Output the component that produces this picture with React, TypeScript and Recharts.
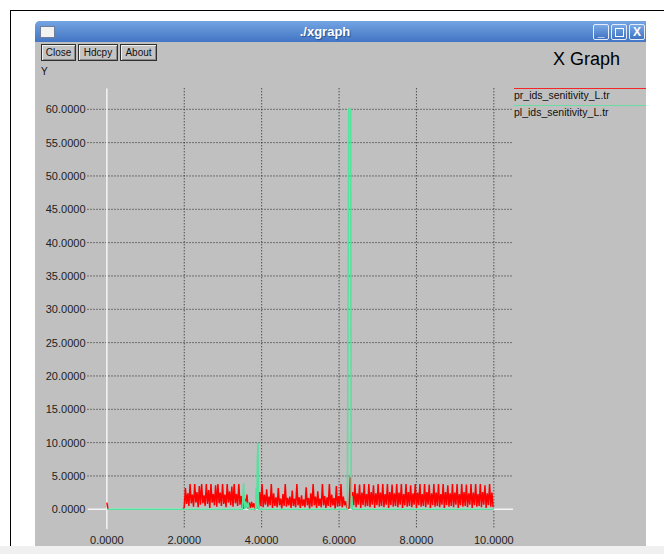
import React from 'react';
import { LineChart, Line, XAxis, YAxis, CartesianGrid } from 'recharts';

// trace files are sampled every 0.03 s
const SAMPLE_STEP = 0.03;

const xDomain = [-0.5, 10.5];
const yDomain = [-3, 63.15];
const xTicks = [0, 2, 4, 6, 8, 10];
const yTicks = [0, 5, 10, 15, 20, 25, 30, 35, 40, 45, 50, 55, 60];

const seriesNames = ['pr_ids_senitivity_L.tr', 'pl_ids_senitivity_L.tr'];
const seriesColors = ['#ff0000', '#52e39c'];

// pr_ids_senitivity_L.tr (null = nothing drawn, the trace sits under the green one)
const redLeadX = [0, 0.03, 1.0, 1.97];
const redLeadY: (number | null)[] = [1.0, 0, null, 0];

const redBurst1Start = 2.0;
const redBurst1 = [
  0.3, 3.2, 0.8, 2.4, 0.5, 3.8, 0.9, 2.2, 0.4, 3.8,
  1.0, 2.6, 0.3, 3.5, 0.7, 3.8, 0.9, 2.1, 0.5, 3.8,
  0.8, 2.9, 0.2, 3.8, 1.0, 2.3, 0.6, 3.6, 0.4, 3.8,
  0.9, 2.5, 0.5, 3.8, 0.8, 2.2, 0.3, 3.8, 1.0, 2.7,
  0.6, 3.4, 0.4, 3.8, 0.9, 2.3, 0.5, 3.8, 0.7, 2.0, 0.3,
];

const redGapStart = 3.53;
const redGap = [0.2, 1.6, 0.3, 2.2, 0.1, 1.0, 0.2, 1.1, 0.3, 0.9, 0.1, 0.4, 0.2];

const redBurst2Start = 3.92;
const redBurst2 = [
  0.2, 2.6, 0.5, 3.8, 0.3, 2.2, 0.7, 3.0, 0.4, 1.9,
  0.6, 3.8, 0.2, 2.4, 0.5, 1.8, 0.3, 3.2, 0.6, 1.6,
  0.1, 2.3, 0.5, 3.8, 0.4, 1.7, 0.6, 1.9, 0.2, 2.8,
  0.5, 1.6, 0.3, 3.8, 0.6, 1.8, 0.2, 2.1, 0.5, 1.5,
  0.3, 3.3, 0.6, 1.7, 0.1, 2.4, 0.4, 3.8, 0.6, 1.9,
  0.2, 2.7, 0.5, 1.6, 0.3, 3.8, 0.6, 2.0, 0.2, 1.8,
  0.5, 3.8, 0.3, 2.2, 0.6, 1.7, 0.1, 3.5, 0.4, 2.0,
  0.5, 3.8, 0.3, 1.9, 0.6, 1.2, 0.3,
];

const redBridgeStart = 6.23;
const redBridge = [0.1, 0.2];

const redBurst3Start = 6.29;
const redBurst3 = [
  4.8, 0.4, 2.6, 0.6, 3.8, 0.3, 2.4, 0.7, 3.7, 0.2, 2.5, 0.6,
  3.8, 0.4, 2.3, 0.5, 3.8, 0.3, 2.6, 0.7, 3.6, 0.2, 2.4, 0.6,
  3.8, 0.4, 2.5, 0.5, 3.8, 0.3, 2.3, 0.7, 3.8, 0.2, 2.6, 0.6,
  3.7, 0.4, 2.4, 0.5, 3.8, 0.3, 2.5, 0.7, 3.8, 0.2, 2.3, 0.6,
  3.8, 0.4, 2.6, 0.5, 3.6, 0.3, 2.4, 0.7, 3.8, 0.2, 2.5, 0.6,
  3.8, 0.4, 2.3, 0.5, 3.8, 0.3, 2.6, 0.7, 3.7, 0.2, 2.4, 0.6,
  3.8, 0.4, 2.5, 0.5, 3.8, 0.3, 2.3, 0.7, 3.8, 0.2, 2.6, 0.6,
  3.6, 0.4, 2.4, 0.5, 3.8, 0.3, 2.5, 0.7, 3.8, 0.2, 2.3, 0.6,
  3.8, 0.4, 2.6, 0.5, 3.7, 0.3, 2.4, 0.7, 3.8, 0.2, 2.5, 0.6,
  3.8, 0.4, 2.3, 0.5, 3.8, 0.3, 2.6, 0.7, 3.6, 0.2, 2.4, 0.6,
  3.8, 0.4, 2.5, 0.3,
];

// pl_ids_senitivity_L.tr
const greenX = [0, 3.5, 3.535, 3.56, 3.59, 3.62, 3.65, 3.68, 3.71, 3.84, 3.86, 3.875, 3.89, 3.905, 3.92, 6.215, 6.25, 6.3, 6.315, 6.33, 6.35, 10.0];
const greenY = [0, 0, 3.9, 0, 1.2, 0.2, 1.0, 0, 0, 0, 3.2, 0, 7.5, 10.0, 0, 0, 60, 60, 0, 2.0, 0, 0];

const sampled = (start: number, ys: number[]) =>
  ys.map((y, i) => ({ x: +(start + i * SAMPLE_STEP).toFixed(3), y }));

const redData = [
  ...redLeadX.map((x, i) => ({ x, y: redLeadY[i] })),
  ...sampled(redBurst1Start, redBurst1),
  ...sampled(redGapStart, redGap),
  ...sampled(redBurst2Start, redBurst2),
  ...sampled(redBridgeStart, redBridge),
  ...sampled(redBurst3Start, redBurst3),
];
const greenData = greenX.map((x, i) => ({ x, y: greenY[i] }));

// xgraph draws the zero axes as white lines under the traces
const zeroX = xDomain.map((x) => ({ x, y: 0 }));
const zeroY = yDomain.map((y) => ({ x: 0, y }));

const FONT = '"Liberation Sans", Arial, Helvetica, sans-serif';

// grid only at the non-zero ticks
const hGrid = ({ yAxis, offset }: any) =>
  yTicks.filter((t) => t !== 0).map((t) =>
    yAxis && typeof yAxis.scale === 'function'
      ? yAxis.scale(t)
      : offset.top + (offset.height * (yDomain[1] - t)) / (yDomain[1] - yDomain[0])
  );
const vGrid = ({ xAxis, offset }: any) =>
  xTicks.filter((t) => t !== 0).map((t) =>
    xAxis && typeof xAxis.scale === 'function'
      ? xAxis.scale(t)
      : offset.left + (offset.width * (t - xDomain[0])) / (xDomain[1] - xDomain[0])
  );

const MenuButton = ({ left, width, label }: { left: number; width: number; label: string }) => (
  <div
    style={{
      position: 'absolute', left, top: 44, width, height: 17, boxSizing: 'border-box',
      border: '1px solid #303030', background: '#c4c4c4',
      boxShadow: 'inset 1px 1px #f0f0f0, inset -1px -1px #8a8a8a',
      fontSize: 10, lineHeight: '15px', textAlign: 'center', color: '#111',
    }}
  >
    {label}
  </div>
);

const TitleButton = ({ left, children }: { left: number; children: React.ReactNode }) => (
  <div
    style={{
      position: 'absolute', left, top: 24, width: 16, height: 16, boxSizing: 'border-box',
      border: '1px solid #e4ecf8', borderRadius: 2,
      background: 'linear-gradient(#79a8e6, #3f72c2)', color: '#fff',
      fontSize: 12, fontWeight: 'bold', lineHeight: '14px', textAlign: 'center',
    }}
  >
    {children}
  </div>
);

export default function App() {
  return (
    <div style={{ position: 'absolute', left: 0, top: 0, width: 664, height: 554, background: '#fff', overflow: 'hidden', fontFamily: FONT }}>
      {/* outer frame */}
      <div style={{ position: 'absolute', left: 10, top: 10, width: 700, height: 600, border: '1.5px solid #000' }} />

      {/* window */}
      <div style={{ position: 'absolute', left: 35, top: 21, width: 611, height: 525, background: '#c0c0c0', borderTopLeftRadius: 5, overflow: 'hidden' }}>
        <div style={{ position: 'absolute', left: 0, top: 0, width: 611, height: 21, background: 'linear-gradient(#74a4e2, #4275c4)' }} />
      </div>
      <div style={{ position: 'absolute', left: 0, top: 546, width: 664, height: 8, background: '#f0f0f0' }} />
      <div style={{ position: 'absolute', left: 40, top: 26, width: 15, height: 12, boxSizing: 'border-box', background: '#f2f2f2', border: '1px solid #6f7f98' }} />
      <div style={{ position: 'absolute', left: 225, top: 24, width: 200, textAlign: 'center', color: '#fff', fontWeight: 'bold', fontSize: 13, textShadow: '1px 1px 1px #2a4f8a' }}>
        ./xgraph
      </div>
      <TitleButton left={593}>_</TitleButton>
      <TitleButton left={611}>
        <div style={{ width: 7, height: 7, border: '1.5px solid #fff', margin: '3px auto' }} />
      </TitleButton>
      <TitleButton left={629}>X</TitleButton>

      <MenuButton left={41} width={35} label="Close" />
      <MenuButton left={78} width={40} label="Hdcpy" />
      <MenuButton left={120} width={37} label="About" />
      <div style={{ position: 'absolute', left: 41, top: 66, fontSize: 10, color: '#111' }}>Y</div>
      <div style={{ position: 'absolute', left: 553, top: 49, fontSize: 18, color: '#000' }}>X Graph</div>

      {/* legend */}
      {seriesNames.map((name, i) => (
        <div key={name} style={{ position: 'absolute', left: 514, top: 88 + i * 17, width: 132 }}>
          <div style={{ height: 1, background: seriesColors[i], opacity: 0.8 }} />
          <div style={{ fontSize: 10.5, color: '#111', lineHeight: '12px' }}>{name}</div>
        </div>
      ))}

      <div style={{ position: 'absolute', left: 0, top: 0 }}>
        <LineChart width={664} height={554} margin={{ top: 88.3, right: 150.8, bottom: 4.7, left: 27.5 }}>
          <CartesianGrid
            stroke="#1e1e1e"
            strokeDasharray="1 2"
            horizontalCoordinatesGenerator={hGrid}
            verticalCoordinatesGenerator={vGrid}
          />
          <XAxis
            type="number"
            dataKey="x"
            domain={xDomain}
            ticks={xTicks}
            allowDataOverflow
            height={20}
            tickSize={0}
            tickMargin={7}
            axisLine={false}
            tickLine={false}
            tickFormatter={(v: number) => v.toFixed(4)}
            tick={{ fontSize: 11, fill: '#222', fontFamily: FONT }}
          />
          <YAxis
            type="number"
            dataKey="y"
            domain={yDomain}
            ticks={yTicks}
            allowDataOverflow
            width={60}
            tickSize={0}
            tickMargin={2}
            axisLine={false}
            tickLine={false}
            tickFormatter={(v: number) => v.toFixed(4)}
            tick={{ fontSize: 11, fill: '#222', fontFamily: FONT }}
          />
          <Line data={zeroY} dataKey="y" type="linear" stroke="#f4f4f4" strokeWidth={1.5} dot={false} activeDot={false} isAnimationActive={false} />
          <Line data={zeroX} dataKey="y" type="linear" stroke="#f4f4f4" strokeWidth={1.5} dot={false} activeDot={false} isAnimationActive={false} />
          <Line data={redData} dataKey="y" type="linear" stroke={seriesColors[0]} strokeWidth={1.5} dot={false} connectNulls={false} isAnimationActive={false} />
          <Line data={greenData} dataKey="y" type="linear" stroke={seriesColors[1]} strokeWidth={1.5} dot={false} isAnimationActive={false} />
        </LineChart>
      </div>
    </div>
  );
}
